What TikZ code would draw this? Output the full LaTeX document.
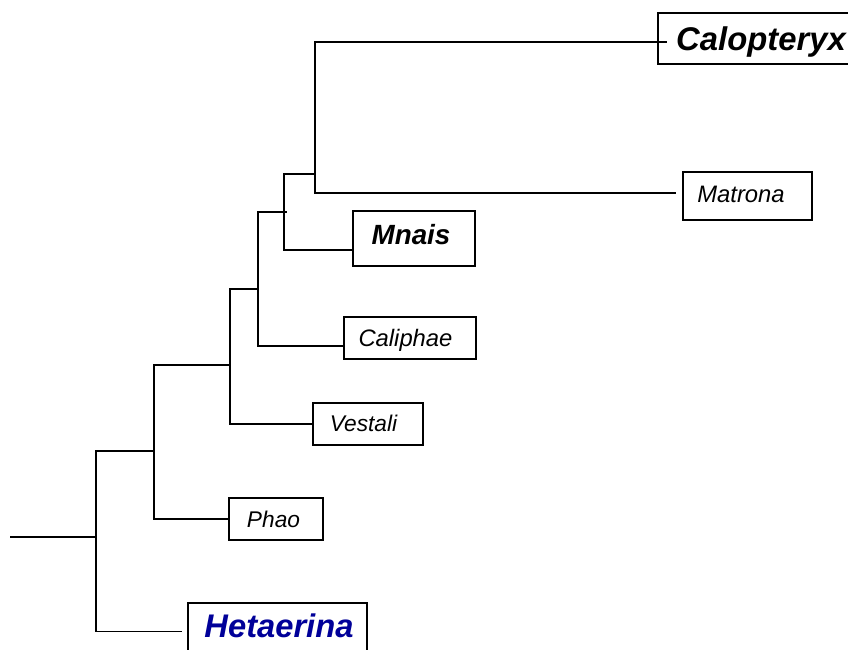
\documentclass[tikz,border=0pt]{standalone}
\usepackage{fontspec}
\setmainfont{Liberation Sans}
\definecolor{hetblue}{RGB}{0,0,153}
\tikzset{
  taxon/.style={draw=black, line width=1.6pt, inner sep=0pt, fill=white, text depth=0pt},
  branch/.style={line width=1.8pt, black},
}
\begin{document}
\begin{tikzpicture}[x=1pt,y=-1pt]
\useasboundingbox (0,0) rectangle (848,650);
% leaf boxes
\node[taxon, minimum width=202pt, minimum height=51pt, text height=23.5pt, font=\bfseries\itshape\fontsize{32.8}{36}\selectfont] (calo) at (759,38.5) {\kern4pt Calopteryx};
\node[taxon, minimum width=129pt, minimum height=48pt, text height=17pt, text depth=4pt, font=\itshape\fontsize{23.8}{27}\selectfont] (matr) at (747.5,196) {Matrona\kern13pt};
\node[taxon, minimum width=122pt, minimum height=55pt, text height=19.9pt, text depth=7pt, font=\bfseries\itshape\fontsize{27.8}{31}\selectfont] (mnai) at (414,238.5) {Mnais\kern6pt};
\node[taxon, minimum width=132pt, minimum height=42pt, text height=17pt, font=\itshape\fontsize{23.8}{27}\selectfont] (cali) at (410,338) {Caliphae\kern9pt};
\node[taxon, minimum width=110pt, minimum height=42pt, text height=16.25pt, text depth=2pt, font=\itshape\fontsize{22.7}{27}\selectfont] (vest) at (368,424) {Vestali\kern9pt};
\node[taxon, minimum width=94pt, minimum height=42pt, text height=16.25pt, font=\itshape\fontsize{22.7}{27}\selectfont] (phao) at (276,519) {Phao\kern5pt};
\node[taxon, minimum width=179pt, minimum height=57pt, text height=23.4pt, text depth=11pt, text=hetblue, font=\bfseries\itshape\fontsize{32.7}{36}\selectfont] (heta) at (277.5,631.5) {\kern3pt Hetaerina};
% internal nodes
\coordinate (r0) at (10,537);
\coordinate (n1) at (96,537);
\coordinate (n2) at (154,451);
\coordinate (n3) at (230,365);
\coordinate (n4) at (258,289);
\coordinate (n5) at (284,212);
\coordinate (n6) at (315,174);
% branches
\draw[branch] (r0) -- (n1);
\draw[branch] (n1) |- (n2);
\draw[branch, shorten >=5pt] (n1) |- (heta.west);
\draw[branch] (n2) |- (n3);
\draw[branch] (n2) |- (phao.west);
\draw[branch] (n3) |- (n4);
\draw[branch] (n3) |- (vest.west);
\draw[branch] (n4) |- ([xshift=3pt]n5);
\draw[branch] (n4) |- ([yshift=-8pt]cali.west);
\draw[branch] (n5) |- (n6);
\draw[branch] (n5) |- ([yshift=-11.5pt]mnai.west);
\draw[branch] (n6) |- ([xshift=10pt,yshift=-3.5pt]calo.west);
\draw[branch, shorten >=6pt] (n6) |- ([yshift=3pt]matr.west);
\end{tikzpicture}
\end{document}
